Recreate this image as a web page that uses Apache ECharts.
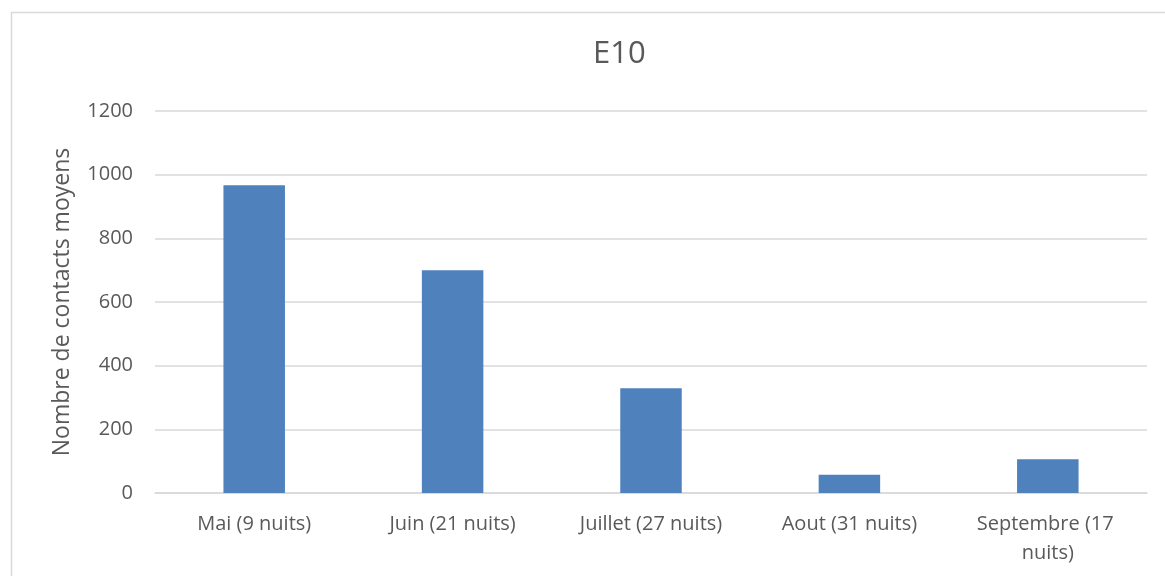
<!DOCTYPE html>
<html>
<head>
<meta charset="utf-8">
<script src="https://cdn.jsdelivr.net/npm/echarts@6/dist/echarts.min.js"></script>
<style>
  html, body { margin: 0; padding: 0; background: #fff; }
  #chart { width: 1165px; height: 576px; }
</style>
</head>
<body>
<div id="chart"></div>
<script>
// Monthly means of recorded contacts at station E10
const categories = ['Mai (9 nuits)', 'Juin (21 nuits)', 'Juillet (27 nuits)', 'Aout (31 nuits)', 'Septembre (17 nuits)'];
const contacts = [967, 700, 329, 57, 106];
const yTicks = [0, 200, 400, 600, 800, 1000, 1200];

const FONT = '"Open Sans", "Liberation Sans", sans-serif';
const TEXT = '#595959';
const GRID = '#d9d9d9';

const chart = echarts.init(document.getElementById('chart'), null, { renderer: 'canvas' });
chart.setOption({
  backgroundColor: '#ffffff',
  animation: false,
  title: {
    text: 'E10',
    left: 588,
    top: 34,
    textStyle: { fontFamily: FONT, fontSize: 31, fontWeight: 'normal', color: TEXT }
  },
  graphic: [{
    type: 'rect',
    shape: { x: 11.5, y: 12.5, width: 1160, height: 580 },
    style: { fill: 'none', stroke: GRID, lineWidth: 1.5 },
    silent: true
  }],
  grid: { left: 155, right: 18, top: 111, bottom: 83 },
  xAxis: {
    type: 'category',
    data: categories,
    axisLine: { show: true, lineStyle: { color: GRID, width: 1.5 } },
    axisTick: { show: false },
    axisLabel: {
      color: TEXT, fontFamily: FONT, fontSize: 20, margin: 17,
      width: 175, overflow: 'break', lineHeight: 29, interval: 0
    }
  },
  yAxis: {
    type: 'value',
    min: yTicks[0],
    max: yTicks[yTicks.length - 1],
    interval: yTicks[1] - yTicks[0],
    name: 'Nombre de contacts moyens',
    nameLocation: 'middle',
    nameGap: 81,
    nameRotate: 90,
    nameTextStyle: { color: TEXT, fontFamily: FONT, fontSize: 23 },
    axisLine: { show: false },
    axisTick: { show: false },
    axisLabel: {
      color: TEXT, fontFamily: FONT, fontSize: 20, margin: 22,
      formatter: (v) => String(v)
    },
    splitLine: { lineStyle: { color: GRID, width: 1.5 } }
  },
  series: [{
    type: 'bar',
    data: contacts,
    barWidth: '31%',
    itemStyle: { color: '#4f81bd' }
  }]
});
</script>
</body>
</html>
